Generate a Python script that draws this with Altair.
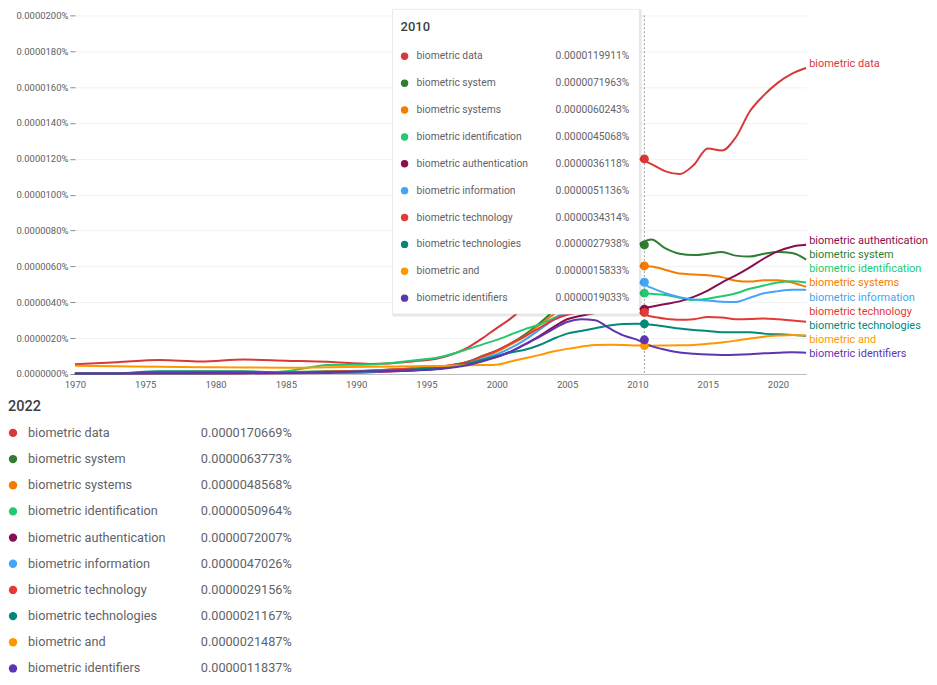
import altair as alt
import pandas as pd

terms = ["biometric data", "biometric system", "biometric systems", "biometric identification",
         "biometric authentication", "biometric information", "biometric technology",
         "biometric technologies", "biometric and", "biometric identifiers"]
colors = ["#d93838", "#2e7d32", "#f57c00", "#22c96f", "#880e4f", "#42a5f5", "#e53935",
          "#00897b", "#ff9800", "#5e35b1"]

years = [1970, 1973, 1976, 1979, 1982, 1985, 1988, 1991, 1994, 1996, 1998, 1999, 2000, 2001,
         2002, 2003, 2004, 2005, 2006, 2007, 2008, 2009, 2010, 2011, 2012, 2013, 2014, 2015,
         2016, 2017, 2018, 2019, 2020, 2021, 2022]

# values in units of 0.0000001 %
data_v = [5.4, 6.5, 7.8, 6.9, 8.0, 7.4, 6.8, 5.6, 7.0, 9.0, 15.0, 20.0, 25.6, 31.0, 38.0, 48.0,
          60.0, 73.0, 86.0, 98.0, 108.0, 115.0, 119.911, 117.0, 113.0, 111.5, 116.5, 125.8,
          124.6, 132.0, 146.5, 155.5, 162.5, 167.5, 170.669]
system_v = [0.3, 0.4, 1.0, 1.0, 0.8, 1.0, 1.5, 2.0, 3.0, 4.0, 7.0, 10.0, 13.0, 17.0, 22.0, 28.0,
            35.0, 43.0, 51.0, 58.0, 64.0, 69.0, 71.963, 75.0, 70.0, 67.0, 66.3, 67.0, 68.0,
            66.0, 65.5, 67.0, 68.0, 67.5, 63.773]
systems_v = [0.3, 0.4, 0.8, 0.8, 0.7, 0.8, 1.3, 1.8, 3.0, 4.0, 6.5, 9.5, 12.5, 16.5, 21.0, 27.0,
             33.0, 39.0, 45.0, 50.0, 55.0, 58.5, 60.243, 60.0, 58.0, 56.0, 55.5, 55.0, 54.0,
             52.0, 51.5, 52.3, 52.3, 51.0, 48.568]
ident_v = [0.0, 0.1, 0.3, 0.3, 0.5, 1.5, 5.0, 5.3, 7.5, 9.5, 14.0, 16.5, 19.0, 22.0, 25.0, 27.5,
           31.0, 34.5, 38.0, 41.0, 43.0, 44.5, 45.068, 44.7, 44.0, 42.5, 41.2, 42.0, 43.3,
           45.0, 47.5, 49.3, 51.0, 51.7, 50.964]
auth_v = [0.1, 0.1, 0.3, 0.3, 0.3, 0.4, 0.6, 1.0, 2.0, 3.0, 5.5, 7.5, 9.5, 12.5, 16.5, 21.0,
          26.0, 30.5, 32.5, 34.0, 35.0, 35.8, 36.118, 37.5, 39.0, 40.5, 43.0, 46.5, 51.0,
          55.0, 59.5, 64.4, 68.5, 71.0, 72.007]
info_v = [0.2, 0.2, 0.5, 0.5, 0.5, 0.6, 0.9, 1.3, 2.5, 3.5, 6.0, 8.5, 11.0, 14.5, 19.0, 24.5,
          30.0, 35.0, 40.0, 44.0, 47.5, 50.0, 51.136, 48.0, 45.0, 42.8, 41.5, 41.0, 40.3,
          40.2, 42.5, 45.0, 46.2, 47.0, 47.026]
tech_v = [0.3, 0.3, 0.6, 0.6, 0.6, 0.7, 1.2, 1.8, 3.0, 4.0, 7.0, 10.0, 13.0, 17.0, 21.0, 25.5,
          30.0, 33.0, 34.5, 35.0, 35.0, 34.7, 34.314, 32.0, 30.8, 30.2, 30.5, 31.8, 31.5,
          30.5, 30.6, 31.0, 30.5, 29.8, 29.156]
techs_v = [0.2, 0.3, 1.5, 1.5, 1.5, 0.8, 1.0, 1.5, 2.5, 3.5, 6.0, 8.0, 10.0, 12.0, 13.5, 16.0,
           19.5, 22.5, 24.0, 25.5, 27.0, 27.8, 27.938, 27.5, 26.5, 25.3, 24.5, 24.0, 23.3,
           23.2, 23.2, 22.5, 22.1, 21.8, 21.167]
and_v = [4.6, 4.3, 4.0, 3.8, 3.6, 3.5, 3.8, 4.0, 4.3, 4.5, 4.8, 5.0, 5.2, 7.0, 8.8, 10.5,
         12.5, 14.0, 15.2, 16.2, 16.3, 16.2, 15.833, 15.8, 15.9, 16.0, 16.2, 16.8, 17.6,
         18.6, 19.8, 20.8, 21.4, 21.8, 21.487]
idents_v = [0.2, 0.3, 0.5, 0.5, 0.5, 0.5, 1.0, 1.5, 2.0, 2.8, 5.0, 7.0, 9.5, 12.5, 16.5, 20.5,
            25.0, 29.0, 30.5, 30.0, 25.5, 21.5, 19.033, 15.5, 13.5, 12.0, 11.3, 10.8, 10.6,
            10.7, 11.0, 11.5, 11.8, 12.1, 11.837]

series = [data_v, system_v, systems_v, ident_v, auth_v, info_v, tech_v, techs_v, and_v, idents_v]
hover_year = 2010
legend_year = 2022
x_ticks = [1970, 1975, 1980, 1985, 1990, 1995, 2000, 2005, 2010, 2015, 2020]
y_ticks = [0, 20, 40, 60, 80, 100, 120, 140, 160, 180, 200]

rows = []
for i, (t, vals) in enumerate(zip(terms, series)):
    for yr, v in zip(years, vals):
        rows.append({"term": t, "year": yr, "v": v, "order": i})
df = pd.DataFrame(rows)

W, H = 732, 359
FONT = "Roboto"
TXT = "#5f6368"
color = alt.Color("term:N", scale=alt.Scale(domain=terms, range=colors), legend=None)
xs = alt.Scale(domain=[1970, 2022], nice=False, zero=False)
ys = alt.Scale(domain=[0, 200], nice=False)

X_AXIS = alt.Axis(values=x_ticks, tickCount=30, format="d", grid=False, ticks=False,
                  domainColor="#bdbdbd", labelColor="#616161", labelFontSize=9.5,
                  labelFont=FONT, labelPadding=6, labelFlush=False, labelOverlap=False)
Y_AXIS = alt.Axis(values=y_ticks, tickCount=30,
                  labelExpr="format(datum.value * 1e-7, '.7f') + '%'",
                  gridColor="#f2f2f2", tickColor="#8a8a8a", tickSize=5, domain=False,
                  labelPadding=2, labelColor="#616161", labelFontSize=9.5,
                  labelFont=FONT, labelFlush=False, labelOverlap=False)


def xq(field):
    return alt.X(field, type="quantitative", scale=xs, title=None, axis=X_AXIS)


def yq(field):
    return alt.Y(field, type="quantitative", scale=ys, title=None, axis=Y_AXIS)


base = alt.Chart(df)

lines = base.mark_line(interpolate="monotone", strokeWidth=2).encode(
    x=xq("year"), y=yq("v"), color=color)

rule = alt.Chart(pd.DataFrame({"year": [hover_year]})).mark_rule(
    strokeDash=[2, 2], color="#9e9e9e", strokeWidth=1, xOffset=7
).encode(x=xq("year"))

hover_pts = base.transform_filter(f"datum.year == {hover_year}").mark_circle(
    size=80, opacity=1, xOffset=7
).encode(x=xq("year"), y=yq("v"), color=color)

end_labels = base.transform_filter(f"datum.year == {legend_year}").transform_calculate(
    rv="round(datum.v)"
).transform_window(
    r="row_number()", sort=[alt.SortField("rv", order="descending"), alt.SortField("order")]
).transform_calculate(
    lv="datum.r == 1 ? datum.v + 2 : 74.1 - (datum.r - 2) * 7.87"
).mark_text(align="left", baseline="middle", dx=3, fontSize=11, font=FONT).encode(
    x=xq("year"), y=yq("lv"), text="term:N", color=color)

one = pd.DataFrame({"a": [0]})
shadow1 = alt.Chart(one).mark_rect(color="#000000", opacity=0.05).encode(
    x=alt.value(318), x2=alt.value(568), y=alt.value(-6), y2=alt.value(302))
shadow2 = alt.Chart(one).mark_rect(color="#000000", opacity=0.06).encode(
    x=alt.value(318), x2=alt.value(566.5), y=alt.value(-6), y2=alt.value(300.5))
box = alt.Chart(one).mark_rect(fill="white", stroke="#e3e3e3", strokeWidth=0.6).encode(
    x=alt.value(318), x2=alt.value(565), y=alt.value(-6), y2=alt.value(299))

tip_header = alt.Chart(pd.DataFrame({"year": [hover_year]})).mark_text(
    align="left", baseline="middle", fontSize=13, fontWeight=500, font=FONT, color="#3c4043"
).encode(x=alt.value(326), y=alt.value(12), text=alt.Text("year:Q", format="d"))

tip = base.transform_filter(f"datum.year == {hover_year}").transform_calculate(
    py="41 + datum.order * 26.9",
    label="format(datum.v * 1e-7, '.10f') + '%'",
)
tip_dots = tip.mark_circle(size=55, opacity=1).encode(
    x=alt.value(330), y=alt.Y("py:Q", scale=None, axis=None), color=color)
tip_names = tip.mark_text(align="left", baseline="middle", fontSize=10.3, font=FONT,
                          color=TXT).encode(
    x=alt.value(342), y=alt.Y("py:Q", scale=None, axis=None), text="term:N")
tip_vals = tip.mark_text(align="right", baseline="middle", fontSize=10.3, font=FONT,
                         color=TXT).encode(
    x=alt.value(555), y=alt.Y("py:Q", scale=None, axis=None), text="label:N")

leg_header = alt.Chart(pd.DataFrame({"year": [legend_year]})).mark_text(
    align="left", baseline="middle", fontSize=14.5, fontWeight=500, font=FONT, color="#3c4043"
).encode(x=alt.value(-67), y=alt.value(392), text=alt.Text("year:Q", format="d"))

leg = base.transform_filter(f"datum.year == {legend_year}").transform_calculate(
    py="418 + datum.order * 26.2",
    label="format(datum.v * 1e-7, '.10f') + '%'",
)
leg_dots = leg.mark_circle(size=70, opacity=1).encode(
    x=alt.value(-62), y=alt.Y("py:Q", scale=None, axis=None), color=color)
leg_names = leg.mark_text(align="left", baseline="middle", fontSize=12.7, font=FONT,
                          color=TXT).encode(
    x=alt.value(-47), y=alt.Y("py:Q", scale=None, axis=None), text="term:N")
leg_vals = leg.mark_text(align="left", baseline="middle", fontSize=12.7, font=FONT,
                         color=TXT).encode(
    x=alt.value(126), y=alt.Y("py:Q", scale=None, axis=None), text="label:N")

chart = alt.layer(
    lines, rule, hover_pts, end_labels,
    shadow1, shadow2, box, tip_header, tip_dots, tip_names, tip_vals,
    leg_header, leg_dots, leg_names, leg_vals,
).properties(width=W, height=H, padding=0, background="white").configure_view(stroke=None)

chart.save("out.html", embed_options={"renderer": "svg", "actions": False})
